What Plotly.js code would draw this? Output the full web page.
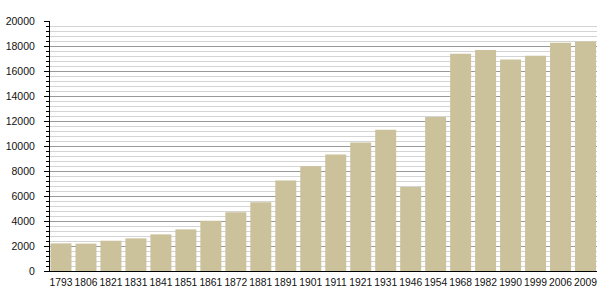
<!DOCTYPE html>
<html>
<head>
<meta charset="utf-8">
<script src="https://cdn.plot.ly/plotly-3.0.1.min.js"></script>
<style>html,body{margin:0;padding:0;background:#fff;}#chart{width:605px;height:300px;}</style>
</head>
<body>
<div id="chart"></div>
<script>
const years = ["1793","1806","1821","1831","1841","1851","1861","1872","1881","1891","1901","1911","1921","1931","1946","1954","1968","1982","1990","1999","2006","2009"];
const population = [2210,2190,2420,2610,2930,3330,4030,4710,5510,7240,8390,9320,10280,11310,6720,12320,17380,17680,16930,17230,18260,18360];
const yTickVals = [0,2000,4000,6000,8000,10000,12000,14000,16000,18000,20000];

const trace = {
  type: 'bar',
  x: years,
  y: population,
  width: 0.84,
  marker: {color: 'rgb(203,193,154)', line: {width: 0}},
  hoverinfo: 'x+y'
};

const layout = {
  width: 605, height: 300,
  margin: {l: 50, r: 8, t: 21, b: 29, pad: 0},
  paper_bgcolor: '#fff', plot_bgcolor: '#fff',
  showlegend: false,
  font: {family: '"Liberation Sans", Arial, sans-serif', size: 10.5, color: '#111'},
  xaxis: {
    type: 'category',
    range: [-0.44, 21.46],
    showgrid: false,
    showline: true, linecolor: '#000', linewidth: 1,
    ticks: '', ticklabelstandoff: 2,
    tickangle: 0,
    tickfont: {size: 10.3, color: '#111'},
    fixedrange: true
  },
  yaxis: {
    range: [0, 20000],
    tickvals: yTickVals,
    ticktext: yTickVals.map(String),
    showgrid: true, gridcolor: '#9a9a9a', gridwidth: 1,
    zeroline: false,
    showline: true, linecolor: '#000', linewidth: 1,
    ticks: 'outside', ticklen: 5, tickcolor: '#000', tickwidth: 1,
    ticklabelstandoff: 7,
    tickfont: {size: 10.5, color: '#111'},
    minor: {dtick: 400, tick0: 0, showgrid: true, gridcolor: '#d4d4d4', gridwidth: 1, ticks: 'outside', ticklen: 3, tickcolor: '#000'},
    fixedrange: true
  },
  bargap: 0.16
};

Plotly.newPlot('chart', [trace], layout, {displayModeBar: false, staticPlot: true});
</script>
</body>
</html>
